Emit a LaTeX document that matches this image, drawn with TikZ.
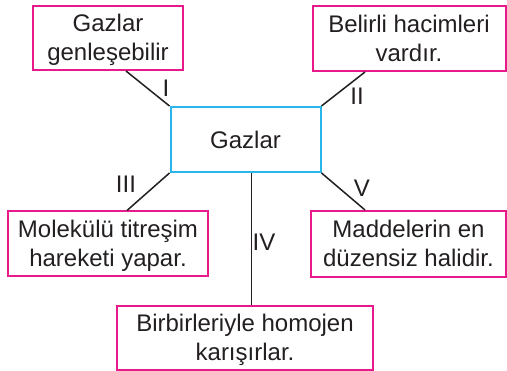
\documentclass[tikz,border=0pt]{standalone}
\usepackage{fontspec}
\setmainfont{Liberation Sans}
\definecolor{pinkb}{HTML}{E8198B}
\definecolor{cyanb}{HTML}{29B6EA}
\definecolor{txt}{HTML}{231F20}
\begin{document}
\begin{tikzpicture}[x=1pt,y=-1pt,
  every node/.style={text=txt,font=\fontsize{24}{29}\selectfont},
  pbox/.style={draw=pinkb,line width=2pt,align=center,inner sep=0pt,text height=46.5pt,text depth=0.5pt},
  cbox/.style={draw=cyanb,line width=2pt,align=center,inner sep=0pt,text height=17.5pt,text depth=0pt},
  conn/.style={draw=txt,line width=1.5pt},
  lbl/.style={inner sep=0pt}]
\useasboundingbox (0,0) rectangle (507,371);
\node[pbox,minimum width=150pt,minimum height=64pt] (b1) at (108,38) {Gazlar\\genleşebilir};
\node[pbox,minimum width=193pt,minimum height=65pt] (b2) at (409,38.5) {Belirli hacimleri\\vardır.};
\node[cbox,minimum width=150pt,minimum height=65pt] (c) at (245.5,139.5) {Gazlar};
\node[pbox,minimum width=200pt,minimum height=65pt] (b3) at (108,244) {Molekülü titreşim\\hareketi yapar.};
\node[pbox,minimum width=195pt,minimum height=66pt] (b5) at (408.5,244) {Maddelerin en\\düzensiz halidir.};
\node[pbox,minimum width=256pt,minimum height=64pt] (b4) at (245,338) {Birbirleriyle homojen\\karışırlar.};
\coordinate (e1) at ([xshift=18pt]b1.south);
\coordinate (e2) at ([xshift=-44pt]b2.south);
\coordinate (e3) at ([xshift=19pt]b3.north);
\coordinate (e5) at ([xshift=-43.5pt]b5.north);
\coordinate (c4) at ([xshift=6pt]c.south);
\coordinate (e4) at ([xshift=6.5pt]b4.north);
\draw[conn] (c.north west) -- (e1);
\draw[conn] (c.north east) -- (e2);
\draw[conn] (c.south west) -- (e3);
\draw[conn] (c.south east) -- (e5);
\draw[conn] (c4) -- (e4);
\node[lbl] (l1) at (166,88) {I};
\node[lbl] (l2) at (357,96) {II};
\node[lbl] (l3) at (126,184) {III};
\node[lbl] (l4) at (264,242) {IV};
\node[lbl] (l5) at (362,188) {V};
\end{tikzpicture}
\end{document}
